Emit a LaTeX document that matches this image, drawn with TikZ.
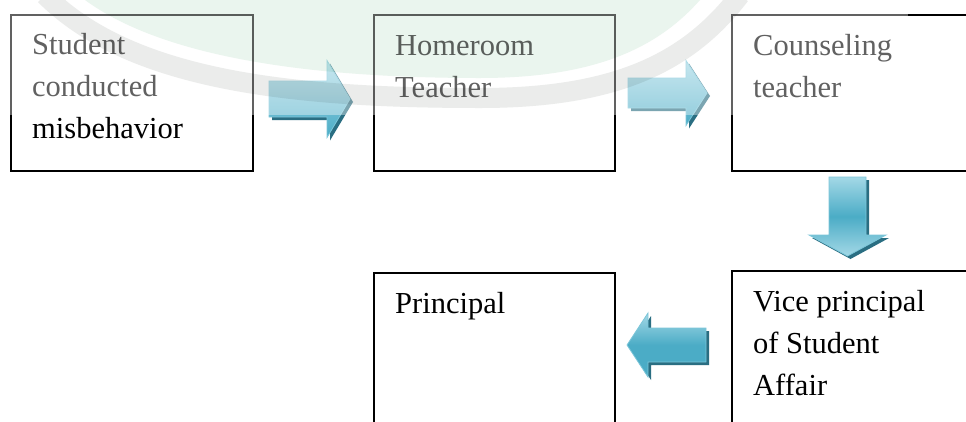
\documentclass[tikz,border=0pt]{standalone}
\usepackage{fontspec}
\setmainfont{Liberation Serif}
\usetikzlibrary{calc}
\definecolor{aqua}{HTML}{4BACC6}
\definecolor{aqual}{HTML}{A3D8E6}
\definecolor{aquaedge}{HTML}{7CC6D9}
\definecolor{aquashadow}{HTML}{2A6E82}
\definecolor{mint}{HTML}{EAF5EE}
\definecolor{wmgrey}{HTML}{EBECEB}
\begin{document}
\begin{tikzpicture}[x=1pt,y=-1pt,
  box/.style={draw=black,line width=1.7pt,rectangle,anchor=north west,inner sep=0pt},
  lbl/.style={font=\fontsize{30.5}{42}\selectfont,align=left,anchor=base west,inner sep=0pt},
  arrowshadow/.style={fill=aquashadow},
  arrowbody/.style={draw=aquaedge,line width=0.8pt,top color=aqual,bottom color=aqua},
  arrRshape/.style={insert path={(-40.5,-18) -- (17.5,-18) -- (17.5,-38.5) -- (40.5,0) -- (17.5,38.5) -- (17.5,18) -- (-40.5,18) -- cycle}},
  arrR2shape/.style={insert path={(-39.5,-15) -- (18.5,-15) -- (18.5,-32.5) -- (39.5,0) -- (18.5,32.5) -- (18.5,15) -- (-39.5,15) -- cycle}},
  arrDshape/.style={insert path={(-18.5,-39.5) -- (18.5,-39.5) -- (18.5,18.5) -- (38.5,18.5) -- (0,39.5) -- (-38.5,18.5) -- (-18.5,18.5) -- cycle}},
  arrLshape/.style={insert path={(39.5,-17) -- (-18.5,-17) -- (-18.5,-32) -- (-39.5,0) -- (-18.5,32) -- (-18.5,17) -- (39.5,17) -- cycle}}
]
\useasboundingbox (0,0) rectangle (966,421);
\clip (0,0) rectangle (966,421);
\fill[white] (0,0) rectangle (966,421);

% boxes
\node[box,minimum width=242pt,minimum height=156pt] (b1) at (10,14) {};
\node[box,minimum width=241pt,minimum height=156pt] (b2) at (373,14) {};
\node[box,minimum width=300pt,minimum height=156pt] (b3) at (731,14) {};
\node[box,minimum width=300pt,minimum height=200pt] (b4) at (731,270) {};
\node[box,minimum width=241pt,minimum height=200pt] (b5) at (373,272) {};

% texts (anchored at the baseline of their last line)
\node[lbl] (t1) at ($(b1.north west)+(22,124)$) {Student\\conducted\\misbehavior};
\node[lbl] (t2) at ($(b2.north west)+(22,83)$) {Homeroom\\Teacher};
\node[lbl] (t3) at ($(b3.north west)+(22,83)$) {Counseling\\teacher};
\node[lbl] (t4) at ($(b4.north west)+(22,125)$) {Vice principal\\of Student\\Affair};
\node[lbl] (t5) at ($(b5.north west)+(22,41)$) {Principal};

% block arrows
\coordinate (a1) at (309.5,99);
\coordinate (a2) at (667.5,93);
\coordinate (a3) at (847.5,216.5);
\coordinate (a4) at (666.5,345);

\begin{scope}[shift={($(a1)+(3,3)$)}]\fill[arrowshadow,arrRshape];\end{scope}
\begin{scope}[shift={(a1)}]\path[arrowbody,arrRshape];\end{scope}

\begin{scope}[shift={($(a2)+(3,3)$)}]\fill[arrowshadow,arrR2shape];\end{scope}
\begin{scope}[shift={(a2)}]\path[arrowbody,arrR2shape];\end{scope}

\begin{scope}[shift={($(a3)+(3,3)$)}]\fill[arrowshadow,arrDshape];\end{scope}
\begin{scope}[shift={(a3)}]\path[arrowbody,top color=aqual,bottom color=aqual,middle color=aqua,arrDshape];\end{scope}

\begin{scope}[shift={($(a4)+(3,3)$)}]\fill[arrowshadow,arrLshape];\end{scope}
\begin{scope}[shift={(a4)}]\path[arrowbody,top color=aqual,bottom color=aqua,middle color=aqua,arrLshape];\end{scope}

% faint watermark over the top band
\begin{scope}
\clip (0,0) rectangle (908,115);
\fill[white,opacity=0.38] (0,0) rectangle (908,115);
\fill[mint,blend mode=multiply] (85,0) .. controls (160,55) and (300,78) .. (480,78) .. controls (600,78) and (660,45) .. (700,0) -- cycle;
\draw[wmgrey,blend mode=multiply,line width=20pt] (45,-5) .. controls (130,80) and (290,98) .. (480,98) .. controls (620,98) and (690,60) .. (740,-5);
\end{scope}
\end{tikzpicture}
\end{document}
